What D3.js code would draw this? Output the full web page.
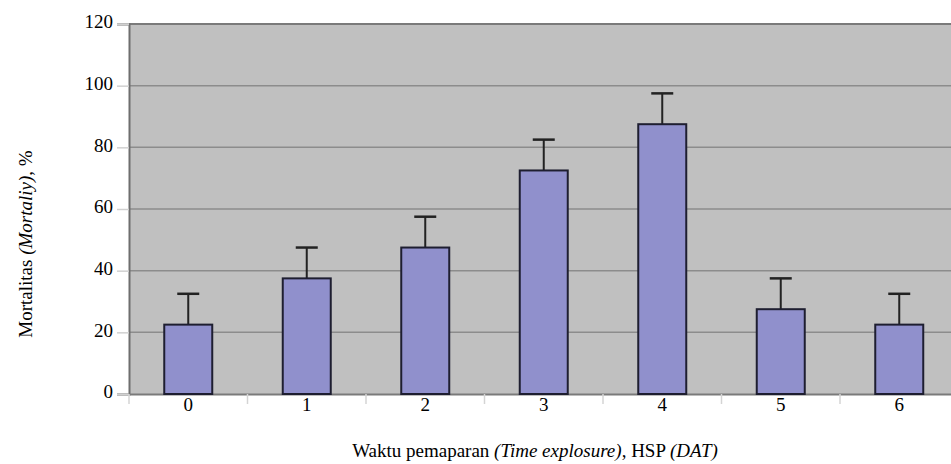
<!DOCTYPE html>
<html>
<head>
<meta charset="utf-8">
<script src="https://cdn.jsdelivr.net/npm/d3@7"></script>
<style>
html,body{margin:0;padding:0;background:#fff;}
svg{display:block;font-family:"Liberation Serif","Times New Roman",serif;}
</style>
</head>
<body>
<svg id="chart" width="951" height="464"></svg>
<script>
const categories = ["0","1","2","3","4","5","6"];
const mortality = [22.5, 37.5, 47.5, 72.5, 87.5, 27.5, 22.5];
const errors = [10, 10, 10, 10, 10, 10, 10];
const yTicks = [0, 20, 40, 60, 80, 100, 120];

const svg = d3.select("#chart");
const pLeft = 129, pTop = 24, pBottom = 394, pRight = 958.5;
const FONT = "Liberation Serif";

const x = d3.scaleBand().domain(categories).range([pLeft, pRight]).padding(0);
const y = d3.scaleLinear().domain([0, 120]).range([pBottom, pTop]);
const barW = x.bandwidth() * 0.405;

// plot background
svg.append("rect").attr("x", pLeft).attr("y", pTop)
  .attr("width", pRight - pLeft).attr("height", pBottom - pTop)
  .attr("fill", "#c0c0c0");

// gridlines
svg.append("g").selectAll("line").data(yTicks.filter(d => d > 0)).join("line")
  .attr("x1", pLeft).attr("x2", pRight)
  .attr("y1", d => y(d)).attr("y2", d => y(d))
  .attr("stroke", d => d === 120 ? "#7a7a7a" : "#8c8c8c").attr("stroke-width", d => d === 120 ? 2 : 1.5);

// y axis
const yAxis = d3.axisLeft(y).tickValues(yTicks).tickSize(12).tickPadding(4).tickFormat(d3.format("d"));
const gy = svg.append("g").attr("transform", `translate(${pLeft},0)`).call(yAxis)
  .attr("font-family", FONT).attr("font-size", 19);
gy.select(".domain").attr("stroke", "#6e6e6e").attr("stroke-width", 2);
gy.selectAll(".tick line").attr("stroke", "#d0d0d0").attr("stroke-width", 1.5);
gy.selectAll(".tick text").attr("fill", "#000").attr("dy", "0.2em");

// x axis
const xAxis = d3.axisBottom(x).tickSize(0).tickPadding(4);
const gx = svg.append("g").attr("transform", `translate(0,${pBottom})`).call(xAxis)
  .attr("font-family", FONT).attr("font-size", 19);
gx.select(".domain").attr("stroke", "#7a7a7a").attr("stroke-width", 2);
gx.selectAll(".tick text").attr("fill", "#000");
// boundary ticks between categories
svg.append("g").selectAll("line").data(categories).join("line")
  .attr("x1", d => x(d)).attr("x2", d => x(d))
  .attr("y1", pBottom).attr("y2", pBottom + 10)
  .attr("stroke", "#d4d4d4").attr("stroke-width", 1.5);

// error bars
const eb = svg.append("g");
eb.selectAll("line.v").data(categories).join("line").attr("class", "v")
  .attr("x1", (d) => x(d) + x.bandwidth()/2).attr("x2", (d) => x(d) + x.bandwidth()/2)
  .attr("y1", (d, i) => y(mortality[i])).attr("y2", (d, i) => y(mortality[i] + errors[i]))
  .attr("stroke", "#222").attr("stroke-width", 2);
eb.selectAll("line.c").data(categories).join("line").attr("class", "c")
  .attr("x1", (d) => x(d) + x.bandwidth()/2 - 11).attr("x2", (d) => x(d) + x.bandwidth()/2 + 11)
  .attr("y1", (d, i) => y(mortality[i] + errors[i])).attr("y2", (d, i) => y(mortality[i] + errors[i]))
  .attr("stroke", "#222").attr("stroke-width", 2.5);

// bars
svg.append("g").selectAll("rect").data(categories).join("rect")
  .attr("x", d => x(d) + (x.bandwidth() - barW)/2)
  .attr("y", (d, i) => y(mortality[i]))
  .attr("width", barW)
  .attr("height", (d, i) => y(0) - y(mortality[i]))
  .attr("fill", "#9090cc").attr("stroke", "#1e1e30").attr("stroke-width", 2);

// axis titles
const xt = svg.append("text").attr("x", 535).attr("y", 457).attr("text-anchor", "middle")
  .attr("font-family", FONT).attr("font-size", 19).attr("fill", "#000");
xt.append("tspan").text("Waktu pemaparan ");
xt.append("tspan").attr("font-style", "italic").text("(Time explosure)");
xt.append("tspan").text(", HSP ");
xt.append("tspan").attr("font-style", "italic").text("(DAT)");

const yt = svg.append("text").attr("transform", "translate(32,244) rotate(-90)")
  .attr("text-anchor", "middle").attr("font-family", FONT).attr("font-size", 19).attr("fill", "#000");
yt.append("tspan").text("Mortalitas ");
yt.append("tspan").attr("font-style", "italic").text("(Mortaliy)");
yt.append("tspan").text(", %");
</script>
</body>
</html>
